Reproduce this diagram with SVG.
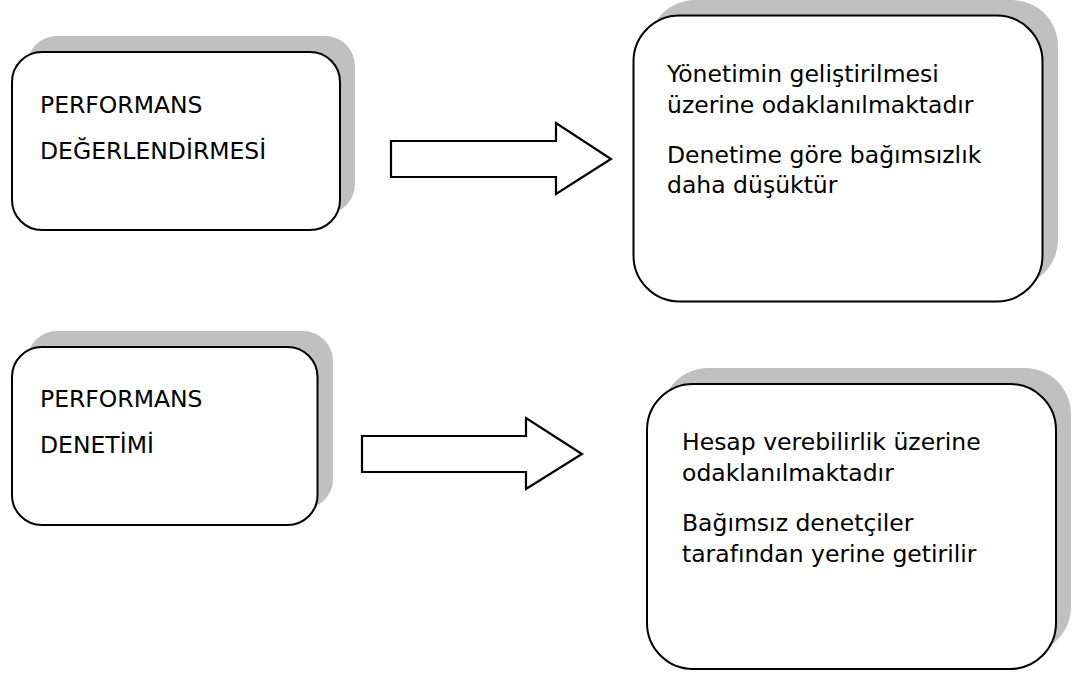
<svg xmlns="http://www.w3.org/2000/svg" width="1072" height="675" viewBox="0 0 1072 675">
<style>
.shadow{fill:#c0c0c0;stroke:none}
.box{fill:#ffffff;stroke:#000000;stroke-width:2}
.arrow{fill:#ffffff;stroke:#000000;stroke-width:2.2;stroke-linejoin:miter}
.t{font-family:"DejaVu Sans",Verdana,sans-serif;font-size:23.5px;fill:#000000}
</style>
<rect width="1072" height="675" fill="#ffffff"/>
<g id="node-degerlendirme">
<rect class="shadow" x="27" y="36" width="328" height="178" rx="30" ry="30"/>
<rect class="box" x="12" y="52" width="328" height="178" rx="30" ry="30"/>
<text class="t" x="40" y="113">PERFORMANS</text>
<text class="t" x="40" y="159">DEĞERLENDİRMESİ</text>
</g>
<g id="node-degerlendirme-desc">
<rect class="shadow" x="649" y="0" width="409" height="286" rx="46" ry="46"/>
<rect class="box" x="633.5" y="15.5" width="409" height="286" rx="46" ry="46"/>
<text class="t" x="667" y="82">Yönetimin geliştirilmesi</text>
<text class="t" x="667" y="113">üzerine odaklanılmaktadır</text>
<text class="t" x="667" y="163">Denetime göre bağımsızlık</text>
<text class="t" x="667" y="193">daha düşüktür</text>
</g>
<g id="node-denetim">
<rect class="shadow" x="27" y="331" width="306" height="178" rx="30" ry="30"/>
<rect class="box" x="12" y="347" width="305.5" height="178" rx="30" ry="30"/>
<text class="t" x="40" y="407">PERFORMANS</text>
<text class="t" x="40" y="453">DENETİMİ</text>
</g>
<g id="node-denetim-desc">
<rect class="shadow" x="662" y="368" width="409" height="285" rx="46" ry="46"/>
<rect class="box" x="647" y="384" width="409" height="285" rx="46" ry="46"/>
<text class="t" x="682" y="450">Hesap verebilirlik üzerine</text>
<text class="t" x="682" y="481">odaklanılmaktadır</text>
<text class="t" x="682" y="531">Bağımsız denetçiler</text>
<text class="t" x="682" y="562">tarafından yerine getirilir</text>
</g>
<g id="connectors">
<polygon class="arrow" points="391,141 556,141 556,123 611,159 556,194 556,177 391,177"/>
<polygon class="arrow" points="362,436 526,436 526,418 582,454 526,489 526,472 362,472"/>
</g>
</svg>
